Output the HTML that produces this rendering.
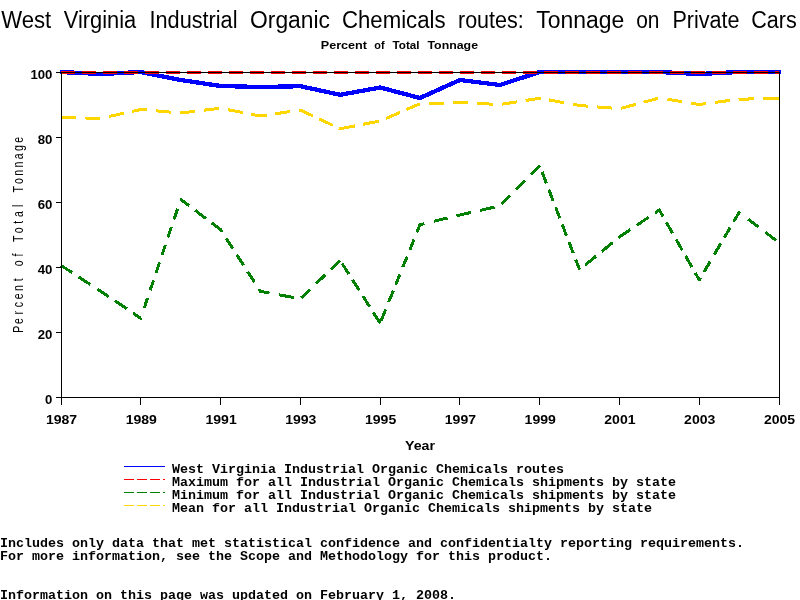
<!DOCTYPE html>
<html><head><meta charset="utf-8"><title>Chart</title>
<style>
html,body{margin:0;padding:0;background:#fff;}
body{width:800px;height:600px;overflow:hidden;}
svg{display:block;will-change:transform;}
text{font-family:"Liberation Sans",sans-serif;fill:#000;}
.m{font-family:"Liberation Mono",monospace;font-weight:bold;font-size:13.33px;}
.t{font-weight:bold;font-size:13px;}
</style></head><body>
<svg width="800" height="600" viewBox="0 0 800 600">
<rect width="800" height="600" fill="#fff"/>
<g font-size="23.3px">
<text x="1.25" y="27.8" textLength="50.0" lengthAdjust="spacingAndGlyphs">West</text>
<text x="63.75" y="27.8" textLength="72.5" lengthAdjust="spacingAndGlyphs">Virginia</text>
<text x="149.5" y="27.8" textLength="88.0" lengthAdjust="spacingAndGlyphs">Industrial</text>
<text x="250" y="27.8" textLength="80" lengthAdjust="spacingAndGlyphs">Organic</text>
<text x="342" y="27.8" textLength="103.5" lengthAdjust="spacingAndGlyphs">Chemicals</text>
<text x="458" y="27.8" textLength="65.75" lengthAdjust="spacingAndGlyphs">routes:</text>
<text x="536.25" y="27.8" textLength="88.0" lengthAdjust="spacingAndGlyphs">Tonnage</text>
<text x="636.25" y="27.8" textLength="23.25" lengthAdjust="spacingAndGlyphs">on</text>
<text x="672.5" y="27.8" textLength="67.0" lengthAdjust="spacingAndGlyphs">Private</text>
<text x="751.25" y="27.8" textLength="45.5" lengthAdjust="spacingAndGlyphs">Cars</text>
</g>
<g font-size="11.5px" font-weight="bold">
<text x="320.75" y="48.6" textLength="46.25" lengthAdjust="spacingAndGlyphs">Percent</text>
<text x="374.25" y="48.6" textLength="10.25" lengthAdjust="spacingAndGlyphs">of</text>
<text x="392.5" y="48.6" textLength="27.0" lengthAdjust="spacingAndGlyphs">Total</text>
<text x="427.5" y="48.6" textLength="50.5" lengthAdjust="spacingAndGlyphs">Tonnage</text>
</g>
<polyline points="60.0,72.0 100.9,74.0 140.8,72.0 180.7,80.0 220.6,86.0 260.4,87.0 300.3,86.2 340.2,94.8 380.1,87.5 420.0,98.0 459.9,80.0 499.8,85.0 539.7,72.0 579.6,72.0 619.4,72.0 659.3,72.0 699.2,74.0 739.1,72.0 781.0,72.0" fill="none" stroke="#0000ff" stroke-width="4.3" stroke-linejoin="round" shape-rendering="crispEdges"/>
<polyline points="61.0,72.5 100.9,72.5 140.8,72.5 180.7,72.5 220.6,72.5 260.4,72.5 300.3,72.5 340.2,72.5 380.1,72.5 420.0,72.5 459.9,72.5 499.8,72.5 539.7,72.5 579.6,72.5 619.4,72.5 659.3,72.5 699.2,72.5 739.1,72.5 779.0,72.5" fill="none" stroke="#ff0000" stroke-width="3" stroke-dasharray="14 7" shape-rendering="crispEdges"/>
<g fill="none" stroke="#008000" stroke-width="3" shape-rendering="crispEdges" stroke-linejoin="round">
<polyline points="61.0,265.4 72.3,272.8"/>
<polyline points="78.8,277.0 90.4,284.6"/>
<polyline points="97.3,289.1 100.9,291.4 108.5,296.6"/>
<polyline points="114.8,300.8 126.9,308.9"/>
<polyline points="133.1,313.1 140.8,318.3 140.8,318.2"/>
<polyline points="144.3,307.9 147.6,297.9"/>
<polyline points="150.2,290.1 153.5,280.4"/>
<polyline points="156.0,273.1 159.5,262.5"/>
<polyline points="162.0,255.0 165.3,245.1"/>
<polyline points="167.8,237.6 171.4,227.0"/>
<polyline points="173.9,219.6 177.6,208.6"/>
<polyline points="180.6,199.7 180.7,199.4 189.2,205.9"/>
<polyline points="195.1,210.3 205.9,218.5"/>
<polyline points="211.8,223.0 220.6,229.6 222.1,232.0"/>
<polyline points="226.3,238.4 232.9,248.8"/>
<polyline points="236.8,254.7 243.5,265.2"/>
<polyline points="247.7,271.6 254.4,282.1"/>
<polyline points="258.9,288.9 260.4,291.4 269.5,293.1"/>
<polyline points="278.8,294.8 294.0,297.6"/>
<polyline points="301.2,297.9 310.0,289.5"/>
<polyline points="316.1,283.6 325.3,274.8"/>
<polyline points="330.8,269.5 340.1,260.6"/>
<polyline points="342.2,263.7 348.9,274.1"/>
<polyline points="352.4,279.6 359.3,290.5"/>
<polyline points="362.8,296.0 369.6,306.7"/>
<polyline points="373.3,312.5 380.1,323.2"/>
<polyline points="381.1,320.9 385.7,309.5"/>
<polyline points="388.6,302.1 393.3,290.7"/>
<polyline points="395.7,284.7 399.9,274.3"/>
<polyline points="402.8,267.1 407.2,256.4"/>
<polyline points="409.9,249.7 414.0,239.4"/>
<polyline points="416.9,232.3 420.0,224.7 424.5,223.6"/>
<polyline points="434.2,221.2 447.5,218.0"/>
<polyline points="456.5,215.8 459.9,215.0 470.9,212.5"/>
<polyline points="480.1,210.4 494.5,207.1"/>
<polyline points="501.6,204.1 510.0,195.5"/>
<polyline points="516.1,189.4 525.2,180.2"/>
<polyline points="531.1,174.3 539.7,165.6 539.7,165.6"/>
<polyline points="542.1,172.0 546.4,183.2"/>
<polyline points="548.8,189.5 553.1,200.7"/>
<polyline points="555.6,207.1 559.8,218.1"/>
<polyline points="562.2,224.4 566.5,235.7"/>
<polyline points="568.9,241.9 573.3,253.2"/>
<polyline points="575.7,259.5 579.6,269.6"/>
<polyline points="585.1,265.1 596.1,256.1"/>
<polyline points="601.6,251.6 612.6,242.6"/>
<polyline points="618.5,237.7 619.4,237.0 630.5,229.5"/>
<polyline points="636.8,225.2 648.6,217.3"/>
<polyline points="655.0,213.0 659.3,210.0 662.9,216.3"/>
<polyline points="666.4,222.4 672.6,233.2"/>
<polyline points="676.0,239.3 682.2,250.2"/>
<polyline points="685.5,256.0 691.9,267.1"/>
<polyline points="695.2,272.9 699.2,280.0 700.6,277.6"/>
<polyline points="704.0,271.9 710.1,261.6"/>
<polyline points="714.2,254.6 720.8,243.5"/>
<polyline points="724.3,237.6 730.3,227.4"/>
<polyline points="733.5,221.9 739.1,212.4 740.5,213.5"/>
<polyline points="748.1,219.2 758.4,227.0"/>
<polyline points="765.2,232.1 776.1,240.4"/>
</g>
<g fill="none" stroke="#ffd700" stroke-width="3" shape-rendering="crispEdges" stroke-linejoin="round">
<polyline points="61.0,117.5 76.0,117.8"/>
<polyline points="85.0,118.0 100.0,118.2"/>
<polyline points="109.0,116.5 124.0,113.2"/>
<polyline points="132.0,111.4 140.8,109.5 147.0,110.0"/>
<polyline points="156.0,110.8 171.0,112.2"/>
<polyline points="180.0,112.9 180.7,113.0 195.0,111.3"/>
<polyline points="204.0,110.2 219.0,108.4"/>
<polyline points="228.0,109.7 243.0,112.6"/>
<polyline points="251.0,114.2 260.4,116.0 267.0,115.0"/>
<polyline points="275.0,113.8 290.0,111.6"/>
<polyline points="299.0,110.2 300.3,110.0 313.0,116.0"/>
<polyline points="319.0,118.8 333.0,125.4"/>
<polyline points="339.0,128.2 340.2,128.8 355.0,125.9"/>
<polyline points="363.0,124.3 379.0,121.2"/>
<polyline points="386.0,118.5 400.0,112.4"/>
<polyline points="406.4,109.6 420.0,103.8"/>
<polyline points="429.0,103.5 444.0,103.0"/>
<polyline points="453.0,102.7 459.9,102.5 468.0,102.9"/>
<polyline points="477.4,103.4 493.0,104.2"/>
<polyline points="502.0,104.2 517.0,101.8"/>
<polyline points="525.6,100.5 539.7,98.2 541.0,98.5"/>
<polyline points="549.0,99.9 564.0,102.7"/>
<polyline points="573.0,104.3 579.6,105.5 588.0,106.2"/>
<polyline points="597.0,106.9 612.0,108.1"/>
<polyline points="621.0,108.3 636.0,104.3"/>
<polyline points="643.6,102.2 658.0,98.4"/>
<polyline points="667.5,99.3 682.0,101.7"/>
<polyline points="691.0,103.2 699.2,104.5 706.0,103.6"/>
<polyline points="715.0,102.4 730.0,100.4"/>
<polyline points="739.0,99.3 739.1,99.2 754.0,98.9"/>
<polyline points="763.0,98.7 779.0,98.2"/>
</g>
<g stroke="#000" stroke-width="1" shape-rendering="crispEdges" fill="none">
<rect x="61.5" y="72.5" width="718" height="325"/>
<line x1="56" y1="72.5" x2="61" y2="72.5"/>
<line x1="56" y1="137.5" x2="61" y2="137.5"/>
<line x1="56" y1="202.5" x2="61" y2="202.5"/>
<line x1="56" y1="267.5" x2="61" y2="267.5"/>
<line x1="56" y1="332.5" x2="61" y2="332.5"/>
<line x1="56" y1="397.5" x2="61" y2="397.5"/>
<line x1="61.5" y1="397" x2="61.5" y2="405"/>
<line x1="140.5" y1="397" x2="140.5" y2="405"/>
<line x1="220.5" y1="397" x2="220.5" y2="405"/>
<line x1="300.5" y1="397" x2="300.5" y2="405"/>
<line x1="380.5" y1="397" x2="380.5" y2="405"/>
<line x1="459.5" y1="397" x2="459.5" y2="405"/>
<line x1="539.5" y1="397" x2="539.5" y2="405"/>
<line x1="619.5" y1="397" x2="619.5" y2="405"/>
<line x1="699.5" y1="397" x2="699.5" y2="405"/>
<line x1="779.5" y1="397" x2="779.5" y2="405"/>
</g>
<g class="t">
<text class="t" x="30.4" y="79" textLength="22.0" lengthAdjust="spacingAndGlyphs">100</text>
<text class="t" x="37.7" y="144" textLength="14.7" lengthAdjust="spacingAndGlyphs">80</text>
<text class="t" x="37.7" y="209" textLength="14.7" lengthAdjust="spacingAndGlyphs">60</text>
<text class="t" x="37.7" y="274" textLength="14.7" lengthAdjust="spacingAndGlyphs">40</text>
<text class="t" x="37.7" y="339" textLength="14.7" lengthAdjust="spacingAndGlyphs">20</text>
<text class="t" x="45.1" y="404" textLength="7.3" lengthAdjust="spacingAndGlyphs">0</text>
<text class="t" x="45.9" y="424" textLength="31.2" lengthAdjust="spacingAndGlyphs">1987</text>
<text class="t" x="125.7" y="424" textLength="31.2" lengthAdjust="spacingAndGlyphs">1989</text>
<text class="t" x="205.5" y="424" textLength="31.2" lengthAdjust="spacingAndGlyphs">1991</text>
<text class="t" x="285.2" y="424" textLength="31.2" lengthAdjust="spacingAndGlyphs">1993</text>
<text class="t" x="365.0" y="424" textLength="31.2" lengthAdjust="spacingAndGlyphs">1995</text>
<text class="t" x="444.8" y="424" textLength="31.2" lengthAdjust="spacingAndGlyphs">1997</text>
<text class="t" x="524.6" y="424" textLength="31.2" lengthAdjust="spacingAndGlyphs">1999</text>
<text class="t" x="604.3" y="424" textLength="31.2" lengthAdjust="spacingAndGlyphs">2001</text>
<text class="t" x="684.1" y="424" textLength="31.2" lengthAdjust="spacingAndGlyphs">2003</text>
<text class="t" x="763.9" y="424" textLength="31.2" lengthAdjust="spacingAndGlyphs">2005</text>
<text class="t" x="405" y="450" textLength="30" lengthAdjust="spacingAndGlyphs">Year</text>
</g>
<g transform="translate(23.2,329.2) rotate(-90)" font-size="15px" text-anchor="middle">
<text transform="translate(0.00,0) scale(0.70,1)">P</text>
<text transform="translate(8.23,0) scale(0.70,1)">e</text>
<text transform="translate(16.46,0) scale(0.70,1)">r</text>
<text transform="translate(24.69,0) scale(0.70,1)">c</text>
<text transform="translate(32.92,0) scale(0.70,1)">e</text>
<text transform="translate(41.15,0) scale(0.70,1)">n</text>
<text transform="translate(49.38,0) scale(0.70,1)">t</text>
<text transform="translate(65.84,0) scale(0.70,1)">o</text>
<text transform="translate(74.07,0) scale(0.70,1)">f</text>
<text transform="translate(90.53,0) scale(0.70,1)">T</text>
<text transform="translate(98.76,0) scale(0.70,1)">o</text>
<text transform="translate(106.99,0) scale(0.70,1)">t</text>
<text transform="translate(115.22,0) scale(0.70,1)">a</text>
<text transform="translate(123.45,0) scale(0.70,1)">l</text>
<text transform="translate(139.91,0) scale(0.70,1)">T</text>
<text transform="translate(148.14,0) scale(0.70,1)">o</text>
<text transform="translate(156.37,0) scale(0.70,1)">n</text>
<text transform="translate(164.60,0) scale(0.70,1)">n</text>
<text transform="translate(172.83,0) scale(0.70,1)">a</text>
<text transform="translate(181.06,0) scale(0.70,1)">g</text>
<text transform="translate(189.29,0) scale(0.70,1)">e</text>
</g>
<line x1="124" y1="466.5" x2="165" y2="466.5" stroke="#0000ff" stroke-width="1" shape-rendering="crispEdges"/>
<text class="m" x="172" y="472.5" textLength="392" lengthAdjust="spacing">West Virginia Industrial Organic Chemicals routes</text>
<line x1="124" y1="479.5" x2="165" y2="479.5" stroke="#ff0000" stroke-width="1" shape-rendering="crispEdges" stroke-dasharray="10 3"/>
<text class="m" x="172" y="485.5" textLength="504" lengthAdjust="spacing">Maximum for all Industrial Organic Chemicals shipments by state</text>
<line x1="124" y1="492.5" x2="165" y2="492.5" stroke="#008000" stroke-width="1" shape-rendering="crispEdges" stroke-dasharray="10 3"/>
<text class="m" x="172" y="498.5" textLength="504" lengthAdjust="spacing">Minimum for all Industrial Organic Chemicals shipments by state</text>
<line x1="124" y1="505.5" x2="165" y2="505.5" stroke="#ffd700" stroke-width="1" shape-rendering="crispEdges" stroke-dasharray="10 3"/>
<text class="m" x="172" y="511.5" textLength="480" lengthAdjust="spacing">Mean for all Industrial Organic Chemicals shipments by state</text>
<text class="m" x="0" y="547" textLength="744" lengthAdjust="spacing">Includes only data that met statistical confidence and confidentialty reporting requirements.</text>
<text class="m" x="0" y="560" textLength="552" lengthAdjust="spacing">For more information, see the Scope and Methodology for this product.</text>
<text class="m" x="0" y="599" textLength="456" lengthAdjust="spacing">Information on this page was updated on February 1, 2008.</text>
</svg></body></html>
